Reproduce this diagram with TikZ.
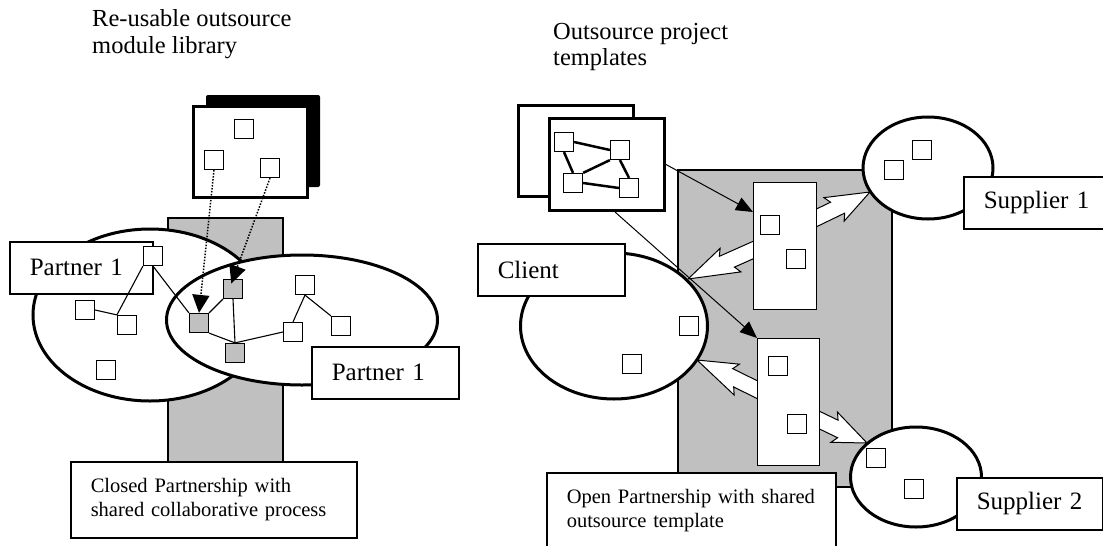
\documentclass[tikz,border=0pt]{standalone}
\usepackage{fontspec}
\setmainfont{Liberation Serif}
\usetikzlibrary{shapes.geometric,arrows.meta,calc}

\definecolor{procgray}{HTML}{C0C0C0}
\newcommand\capfont{\fontsize{24.5}{27}\selectfont}
\newcommand\tagfont{\fontsize{25}{28}\selectfont}
\newcommand\notefont{\fontsize{20.5}{23.5}\selectfont}

\begin{document}
\begin{tikzpicture}[
  x=1pt, y=-1pt,
  sq/.style={draw, fill=white, line width=1.2pt, minimum size=19pt, inner sep=0pt},
  sqg/.style={sq, fill=procgray},
  party/.style={draw, ellipse, fill=white, line width=3pt, inner sep=0pt},
  card/.style={draw, fill=white, line width=3pt, anchor=north west, inner sep=0pt},
  lane/.style={draw, fill=white, line width=1.3pt, anchor=north west, inner sep=0pt},
  tagbox/.style={draw, fill=white, line width=1.5pt, anchor=north west, minimum height=52pt, inner xsep=20pt, align=left, font=\tagfont},
  notebox/.style={draw, fill=white, line width=1.5pt, anchor=north west, minimum height=76pt, inner xsep=20pt, align=left, font=\notefont},
  heading/.style={anchor=base west, inner sep=0pt, font=\capfont},
  link/.style={line width=1.1pt},
  tlink/.style={line width=2.5pt},
  pull/.style={-{Triangle[length=18pt,width=17pt]}, line width=1.5pt, dash pattern=on 1.5pt off 1.5pt},
  feed/.style={-{Triangle[length=17pt,width=14pt]}, line width=1pt},
  bolt/.style={draw, fill=white, line width=1pt, line join=miter,
    to path={let \p1=(\tikztostart), \p2=(\tikztotarget),
      \n1={atan2(\y2-\y1,\x2-\x1)}, \n2={veclen(\x2-\x1,\y2-\y1)} in
      {[shift={(\p1)}, rotate=\n1]
        (0pt,-8pt) -- ({0.52*\n2*1pt},-8pt) -- ({(0.52*\n2-4)*1pt},-15pt)
        -- ({\n2*1pt},0pt) -- ({(0.40*\n2-4)*1pt},15pt)
        -- ({0.40*\n2*1pt},8pt) -- (0pt,8pt) -- cycle}}}
]
\useasboundingbox (0,0) rectangle (1103,546);
\clip (0,0) rectangle (1103,546);

% closed partnership
\node[heading] (libcap) at (92,27) {Re-usable outsource};
\node[heading] (libcap2) at (92,53) {module library};

\draw[fill=procgray, line width=1.2pt] (168,218) rectangle (283,470);
\node[party, minimum width=234pt, minimum height=172pt] (pa) at (150,315) {};
\node[party, minimum width=271pt, minimum height=130pt] (pb) at (302,320) {};
\node[tagbox, text width=103pt] (pabox) at (9,241) {Partner 1};
\node[tagbox, text width=107pt] (pbbox) at (311,346) {Partner 1};

\node[sq] (lt) at (153,256) {};
\node[sq] (l1) at (85,310) {};
\node[sq] (l2) at (127,325) {};
\node[sq] (l3) at (106,370) {};
\node[sqg] (sa) at (199,323) {};
\node[sqg] (sb) at (233,289) {};
\node[sqg] (sc) at (235,353) {};
\node[sq] (r1) at (293,332) {};
\node[sq] (r2) at (305,285) {};
\node[sq] (r3) at (341,326) {};

\draw[link] (lt.south west) -- (l2.north west);
\draw[link] (l1.east) -- (l2.north west);
\draw[link] (lt.south) -- (sa.north west);
\draw[link] (sa.north east) -- (sb.south west);
\draw[link] (sa.south east) -- (sc.north);
\draw[link] (sb.south) -- (sc.north);
\draw[link] (sc.north) -- (r1.west);
\draw[link] (r2.south) -- (r1.north);
\draw[link] (r2.south) -- (r3.north west);

\fill[rounded corners=2pt] (206,95) rectangle (320,187);
\node[card, minimum width=114pt, minimum height=91pt] (lib) at (192,105) {};
\node[sq] (m1) at (244,129) {};
\node[sq] (m2) at (214,160) {};
\node[sq] (m3) at (270,168) {};

\draw[pull] (m2.south) -- (sa.north);
\draw[pull, shorten >=-5pt] (m3.south) -- (sb.north);

\node[notebox, text width=246pt] (closed) at (70,461)
  {Closed Partnership with\\shared collaborative process};

% open partnership
\node[heading] (tplcap) at (553,39) {Outsource project};
\node[heading] (tplcap2) at (553,65) {templates};

\draw[fill=procgray, line width=1.2pt] (678,170) rectangle (892,487);
\node[party, minimum width=187pt, minimum height=146pt] (cl) at (614,326) {};
\node[party, minimum width=130pt, minimum height=102pt] (s1) at (928,168) {};
\node[party, minimum width=131pt, minimum height=100pt] (s2) at (916,477) {};

\coordinate (b1s) at (810,221);  \coordinate (b1e) at (870,192);
\coordinate (b2s) at (760,247);  \coordinate (b2e) at (688,279);
\coordinate (b3s) at (764,393);  \coordinate (b3e) at (697,360);
\coordinate (b4s) at (813,417);  \coordinate (b4e) at (867,443);
\draw[bolt] (b1s) to (b1e);
\draw[bolt] (b2s) to (b2e);
\draw[bolt] (b3s) to (b3e);
\draw[bolt] (b4s) to (b4e);

\node[lane, minimum width=63pt, minimum height=127pt] (wp1) at (753,182) {};
\node[lane, minimum width=62pt, minimum height=127pt] (wp2) at (757,338) {};

\node[tagbox, text width=107pt] (clbox) at (477,243) {Client};
\node[tagbox, text width=106pt] (s1box) at (963,176) {Supplier 1};
\node[tagbox, text width=106pt] (s2box) at (956,477) {Supplier 2};

\node[sq] (w1) at (770,225) {};
\node[sq] (w2) at (796,259) {};
\node[sq] (w3) at (778,366) {};
\node[sq] (w4) at (797,424) {};
\node[sq] (c1) at (689,326) {};
\node[sq] (c2) at (632,364) {};
\node[sq] (u1) at (894,170) {};
\node[sq] (u2) at (922,150) {};
\node[sq] (v1) at (876,458) {};
\node[sq] (v2) at (914,489) {};

\node[card, minimum width=115pt, minimum height=91pt] (tplB) at (517,104) {};
\node[card, minimum width=115pt, minimum height=92pt] (tplF) at (548,117) {};
\node[sq] (t1) at (564,142) {};
\node[sq] (t2) at (620,150) {};
\node[sq] (t3) at (573,183) {};
\node[sq] (t4) at (629,188) {};
\draw[tlink] (t1.east) -- (t2.west);
\draw[tlink] (t1.south) -- (t3.north);
\draw[tlink] (t3.north east) -- (t2.south west);
\draw[tlink] (t3.east) -- (t4.west);
\draw[tlink] (t2.south) -- (t4.north);

\draw[feed] (tplF.east) -- ([yshift=-30pt]wp1.north west);
\draw[feed] ([xshift=8pt]tplF.south) -- (wp2.north west);

\node[notebox, text width=249pt] (open) at (546,472)
  {Open Partnership with shared\\outsource template};
\end{tikzpicture}
\end{document}
